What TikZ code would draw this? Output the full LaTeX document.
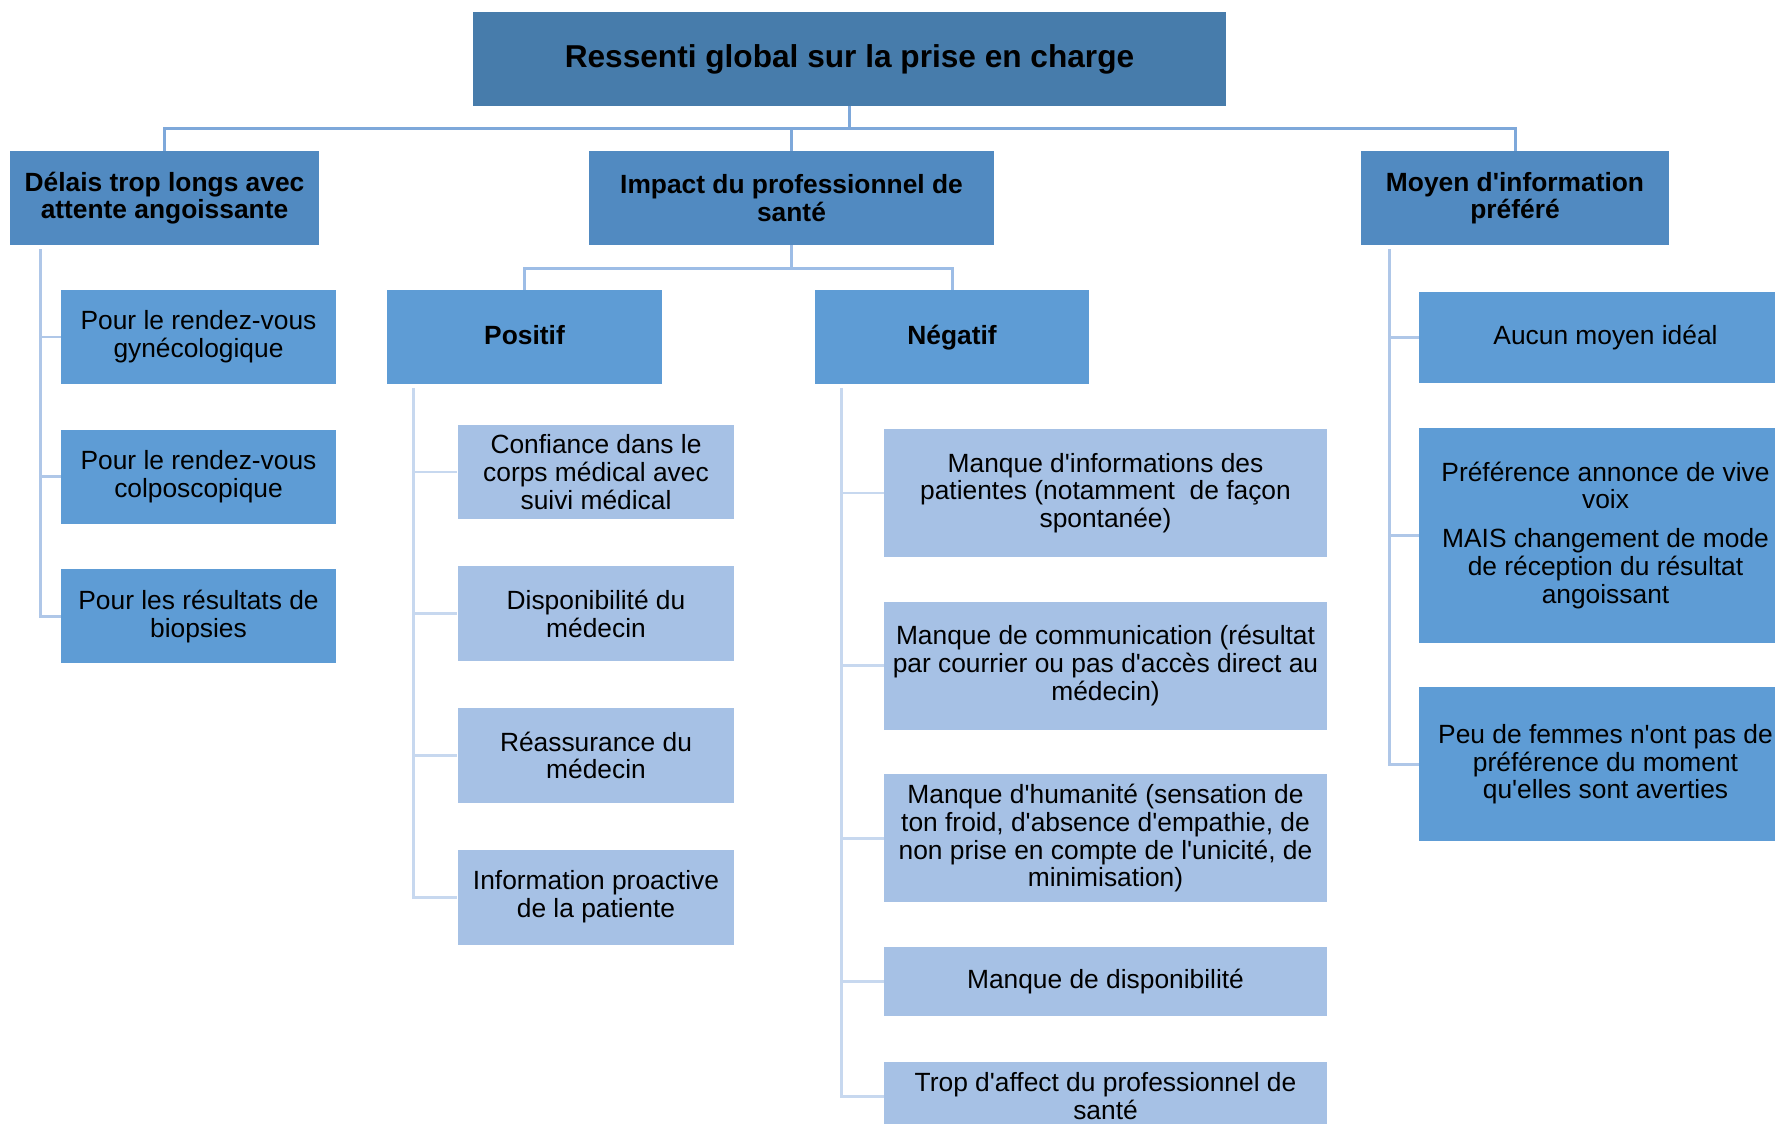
\documentclass[tikz,border=0pt]{standalone}
\usepackage{fontspec}
\setmainfont{Liberation Sans}[Ligatures=TeXOff]
\usepackage{tikz}
\usetikzlibrary{positioning}
\definecolor{rootblue}{HTML}{477CAB}
\definecolor{headblue}{HTML}{518AC1}
\definecolor{midblue}{HTML}{5E9CD5}
\definecolor{paleblue}{HTML}{A6C1E5}
\definecolor{linkblue}{HTML}{7EA8DA}
\definecolor{splitblue}{HTML}{9DBDE6}
\definecolor{sublinkblue}{HTML}{AFC7E8}
\definecolor{leaflinkblue}{HTML}{C7D8EF}

\begin{document}
\begin{tikzpicture}[x=0.02cm, y=-0.02cm,
      box/.style={inner sep=2pt, align=center, text=black,
                  font=\fontsize{15}{15.8}\selectfont},
      top/.style={box, fill=rootblue, minimum width=15.06cm, minimum height=1.88cm,
                  font=\fontsize{18}{20}\selectfont\bfseries},
      head/.style={box, fill=headblue, minimum height=1.88cm,
                   font=\fontsize{15}{15.5}\selectfont\bfseries},
      sub/.style={box, fill=midblue, minimum width=5.5cm, minimum height=1.88cm},
      side/.style={sub, font=\fontsize{15}{15.8}\selectfont\bfseries,
                   text height=11pt, text depth=3pt},
      leaf/.style={box, fill=paleblue},
      lnk/.style={line width=1.7pt, color=linkblue},
      splitlnk/.style={line width=1.7pt, color=splitblue},
      sublnk/.style={line width=1.7pt, color=sublinkblue},
      leaflnk/.style={line width=1.7pt, color=leaflinkblue}
  ]
    \useasboundingbox (0,0) rectangle (1775,1124);
    \clip (0,0) rectangle (1775,1124);

    \node[top] (root) at (849.5,59) {Ressenti global sur la prise en charge};
    \node[head, minimum width=6.18cm] (delais) at (164.5,198) {Délais trop longs avec\\ attente angoissante};
    \node[head, minimum width=8.1cm]  (impact) at (791.5,198) {Impact du professionnel de\\ santé};
    \node[head, minimum width=6.16cm] (moyen)  at (1515,198)  {Moyen d'information\\ préféré};

    \node[side] (positif) at (524.5,337) {Positif};
    \node[side] (negatif) at (952,337)   {Négatif};

    \node[sub] (gyneco) at (198.5,337) {Pour le rendez-vous\\ gynécologique};
    \node[sub, below=0.9cm of gyneco] (colpo)    {Pour le rendez-vous\\ colposcopique};
    \node[sub, below=0.9cm of colpo]  (biopsies) {Pour les résultats de\\ biopsies};

    \node[leaf, minimum width=5.54cm, minimum height=1.9cm] (confiance) at (596,472) {Confiance dans le\\ corps médical avec\\ suivi médical};
    \node[leaf, minimum width=5.54cm, minimum height=1.9cm, below=0.92cm of confiance] (dispo)       {Disponibilité du\\ médecin};
    \node[leaf, minimum width=5.54cm, minimum height=1.9cm, below=0.92cm of dispo]     (reassurance) {Réassurance du\\ médecin};
    \node[leaf, minimum width=5.54cm, minimum height=1.9cm, below=0.92cm of reassurance] (proactive) {Information proactive\\ de la patiente};

    \node[leaf, minimum width=8.86cm, minimum height=2.56cm] (infos) at (1105.5,493) {Manque d'informations des\\ patientes (notamment\ \ de façon\\ spontanée)};
    \node[leaf, minimum width=8.86cm, minimum height=2.56cm, below=0.88cm of infos]    (commu)    {Manque de communication (résultat\\ par courrier ou pas d'accès direct au\\ médecin)};
    \node[leaf, minimum width=8.86cm, minimum height=2.56cm, below=0.88cm of commu]    (humanite) {Manque d'humanité (sensation de\\ ton froid, d'absence d'empathie, de\\ non prise en compte de l'unicité, de\\ minimisation)};
    \node[leaf, minimum width=8.86cm, minimum height=1.38cm, below=0.88cm of humanite] (manqdispo) {Manque de disponibilité};
    \node[leaf, minimum width=8.86cm, minimum height=1.38cm, below=0.9cm of manqdispo] (affect)   {Trop d'affect du professionnel de\\ santé};

    \node[sub, minimum width=7.46cm, minimum height=1.82cm] (aucun) at (1605.5,337.5) {Aucun moyen idéal};
    \node[sub, minimum width=7.46cm, minimum height=4.3cm, below=0.88cm of aucun] (preference) {Préférence annonce de vive\\ voix\\[0.22cm] MAIS changement de mode\\ de réception du résultat\\ angoissant};
    \node[sub, minimum width=7.46cm, minimum height=3.08cm, below=0.88cm of preference] (peu) {Peu de femmes n'ont pas de\\ préférence du moment\\ qu'elles sont averties};

    \draw[lnk] (root.south) -- ++(0,22) coordinate (hub);
    \draw[lnk] (hub) -| (delais.north);
    \draw[lnk] (hub) -| (impact.north);
    \draw[lnk] (hub) -| (moyen.north);

    \draw[splitlnk] (impact.south) -- ++(0,23) coordinate (split);
    \draw[splitlnk] (split) -| (positif.north);
    \draw[splitlnk] (split) -| (negatif.north);

    \foreach \c in {gyneco,colpo,biopsies}
      \draw[sublnk] ([xshift=0.62cm,yshift=-0.08cm]delais.south west) |- (\c.west);
    \foreach \c in {aucun,preference,peu}
      \draw[sublnk] ([xshift=0.58cm,yshift=-0.08cm]moyen.south west) |- (\c.west);
    \foreach \c in {confiance,dispo,reassurance,proactive}
      \draw[leaflnk] ([xshift=0.54cm,yshift=-0.08cm]positif.south west) |- (\c.west);
    \foreach \c in {infos,commu,humanite,manqdispo,affect}
      \draw[leaflnk] ([xshift=0.54cm,yshift=-0.08cm]negatif.south west) |- (\c.west);
  \end{tikzpicture}
\end{document}
